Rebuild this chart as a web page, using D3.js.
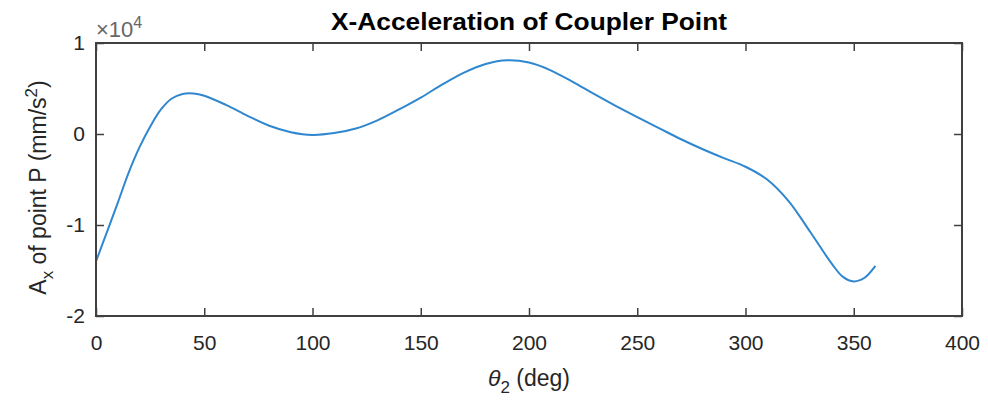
<!DOCTYPE html>
<html>
<head>
<meta charset="utf-8">
<script src="https://cdn.jsdelivr.net/npm/d3@7"></script>
<style>
  body { margin: 0; background: #fff; }
  svg { font-family: "Liberation Sans", Arial, sans-serif; }
</style>
</head>
<body>
<div id="chart"></div>
<script>
// theta2 (deg) and Ax (x 1e4 mm/s^2)
var theta = [0, 5, 10, 15, 20, 25, 30, 35, 40, 45, 50, 60, 70, 80, 90, 100, 110, 120, 130, 140,
	150, 160, 170, 180, 190, 200, 210, 220, 230, 240, 250, 260, 270, 280, 290, 300, 310, 320,
	330, 340, 345, 350, 355, 360];
var accel = [-1.40, -1.08, -0.76, -0.43, -0.15, 0.08, 0.27, 0.39, 0.44, 0.445, 0.42, 0.32, 0.20,
	0.09, 0.02, -0.01, 0.01, 0.06, 0.15, 0.27, 0.40, 0.545, 0.675, 0.77, 0.81, 0.785, 0.70, 0.575,
	0.44, 0.31, 0.185, 0.065, -0.055, -0.165, -0.265, -0.36, -0.50, -0.74, -1.08, -1.43, -1.57,
	-1.62, -1.58, -1.45];
var x_ticks = [0, 50, 100, 150, 200, 250, 300, 350, 400];
var y_ticks = [-2, -1, 0, 1];

var W = 988, H = 400;
var margin = {top: 43, right: 26, bottom: 84, left: 96},
	width = W - margin.left - margin.right,
	height = H - margin.top - margin.bottom;

var axis_col = "#404040";

var svg = d3.select("#chart").append("svg")
	.attr("width", W)
	.attr("height", H)
  .append("g")
	.attr("transform", "translate(" + margin.left + "," + margin.top + ")");

var x = d3.scaleLinear().domain([0, 400]).range([0, width]);
var y = d3.scaleLinear().domain([-2, 1]).range([height, 0]);

var data = theta.map(function(t, i) { return {t: t, v: accel[i]}; });

// the curve
svg.append("path")
	.datum(data)
	.attr("fill", "none")
	.attr("stroke", "#2f87cf")
	.attr("stroke-width", 2)
	.attr("d", d3.line()
		.x(function(d) { return x(d.t); })
		.y(function(d) { return y(d.v); })
		.curve(d3.curveCatmullRom.alpha(0.5)));

function style_axis(g) {
	g.select(".domain").remove();
	g.selectAll(".tick line").attr("stroke", axis_col).attr("stroke-width", 1.5);
	g.selectAll(".tick text").attr("fill", "#262626").attr("font-size", "21px");
}

// bottom axis (ticks inside)
svg.append("g")
	.attr("transform", "translate(0," + height + ")")
	.call(d3.axisBottom(x).tickValues(x_ticks).tickSizeInner(-8).tickSizeOuter(0).tickPadding(19))
	.call(style_axis);

// top ticks
svg.append("g")
	.call(d3.axisTop(x).tickValues(x_ticks).tickSizeInner(-8).tickSizeOuter(0).tickFormat(""))
	.call(style_axis);

// left axis, plain hyphen as minus like the original
svg.append("g")
	.call(d3.axisLeft(y).tickValues(y_ticks).tickSizeInner(-8).tickSizeOuter(0).tickPadding(11)
		.tickFormat(function(d) { return String(d); }))
	.call(style_axis);

// right ticks
svg.append("g")
	.attr("transform", "translate(" + width + ",0)")
	.call(d3.axisRight(y).tickValues(y_ticks).tickSizeInner(-8).tickSizeOuter(0).tickFormat(""))
	.call(style_axis);

// box
svg.append("rect")
	.attr("x", 0).attr("y", 0)
	.attr("width", width).attr("height", height)
	.attr("fill", "none")
	.attr("stroke", axis_col)
	.attr("stroke-width", 2);

// exponent label
var ex = svg.append("text")
	.attr("x", 0)
	.attr("y", -6)
	.attr("fill", "#666")
	.attr("font-size", "22px");
ex.append("tspan").text("\u00d710");
ex.append("tspan").attr("dy", -9).attr("font-size", "16px").text("4");

// title
svg.append("text")
	.attr("x", width / 2)
	.attr("y", -13)
	.attr("text-anchor", "middle")
	.attr("font-weight", "bold")
	.attr("font-size", "23px")
	.attr("textLength", 396)
	.attr("lengthAdjust", "spacingAndGlyphs")
	.attr("fill", "#000")
	.text("X-Acceleration of Coupler Point");

// x label
var xl = svg.append("text")
	.attr("x", width / 2)
	.attr("y", height + 70)
	.attr("text-anchor", "middle")
	.attr("font-size", "23px")
	.attr("fill", "#262626");
xl.append("tspan").attr("font-style", "italic").text("\u03b8");
xl.append("tspan").attr("dy", 7).attr("font-size", "17px").text("2");
xl.append("tspan").attr("dy", -7).text(" (deg)");

// y label
var yl = svg.append("text")
	.attr("transform", "translate(-50," + (height / 2 + 8) + ") rotate(-90)")
	.attr("text-anchor", "middle")
	.attr("font-size", "23px")
	.attr("fill", "#262626");
yl.append("tspan").text("A");
yl.append("tspan").attr("dy", 7).attr("font-size", "17px").text("x");
yl.append("tspan").attr("dy", -7).text(" of point P (mm/s");
yl.append("tspan").attr("dy", -9).attr("font-size", "17px").text("2");
yl.append("tspan").attr("dy", 9).text(")");
</script>
</body>
</html>
